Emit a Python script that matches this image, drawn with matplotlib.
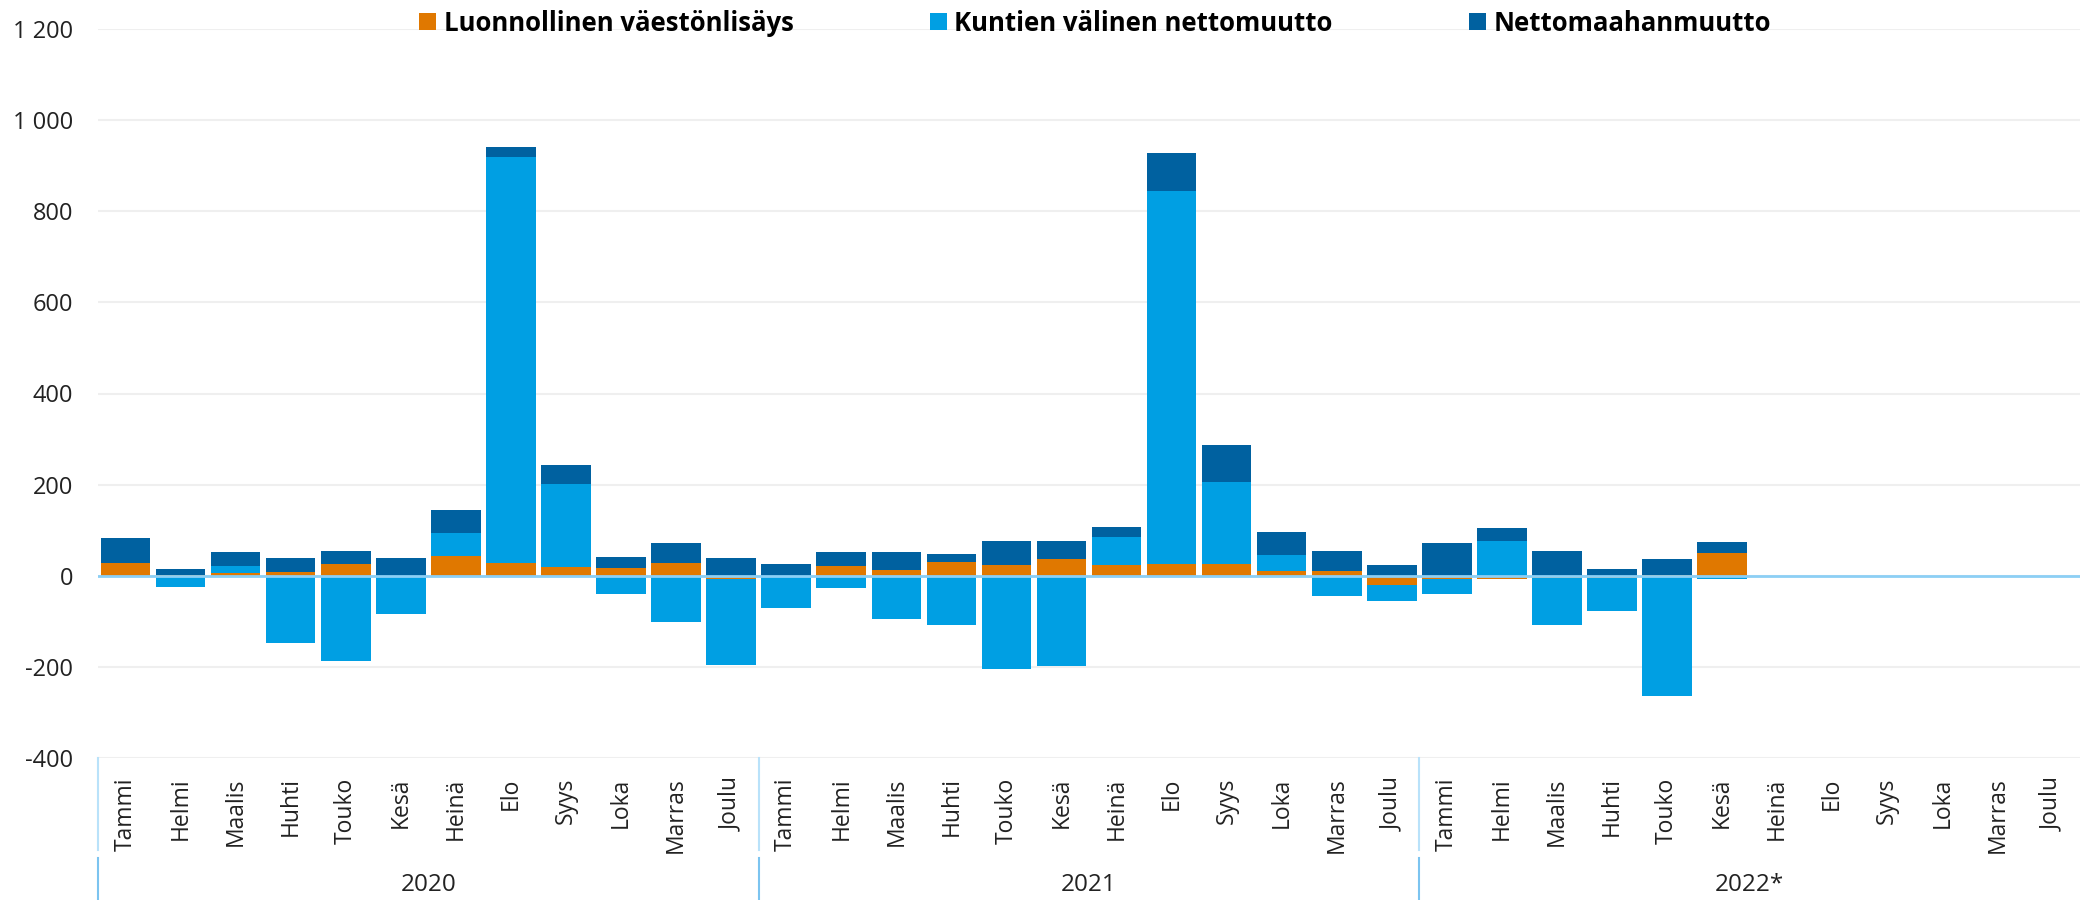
import numpy as np
import matplotlib.pyplot as plt
from matplotlib.patches import Patch
from matplotlib.ticker import FuncFormatter
import matplotlib.transforms as mtransforms

plt.rcParams['font.family'] = ['Open Sans', 'DejaVu Sans']

# Month labels and years
months = ['Tammi', 'Helmi', 'Maalis', 'Huhti', 'Touko', 'Kesä',
          'Heinä', 'Elo', 'Syys', 'Loka', 'Marras', 'Joulu']
years = ['2020', '2021', '2022*']
series_names = ['Luonnollinen väestönlisäys', 'Kuntien välinen nettomuutto', 'Nettomaahanmuutto']

# Values per month (2022 only until Kesä)
luonnollinen = [27, 1, 5, 8, 26, 0, 43, 27, 20, 18, 29, -7,
                0, 21, 13, 30, 24, 37, 24, 26, 26, 10, 11, -20,
                -7, -8, -5, -5, 1, 50]
kuntien = [0, -24, 16, -147, -188, -85, 50, 891, 181, -41, -101, -189,
           -70, -26, -96, -109, -204, -197, 62, 818, 179, 36, -45, -35,
           -34, 76, -104, -72, -265, -7]
maahanmuutto = [56, 14, 32, 32, 29, 39, 52, 23, 41, 23, 42, 39,
                25, 32, 39, 18, 53, 39, 21, 84, 83, 51, 44, 24,
                72, 28, 55, 15, 35, 25]

colors = ['#E07800', '#009FE3', '#0061A0']

fig = plt.figure(figsize=(20.8, 9), dpi=100)
ax = fig.add_axes([98 / 2080, 142 / 900, 1 - 98 / 2080, 729 / 900])

n_cat = len(months) * len(years)
x = np.arange(len(luonnollinen))
pos_bottom = np.zeros(len(x))
neg_bottom = np.zeros(len(x))
for vals, col in zip([luonnollinen, kuntien, maahanmuutto], colors):
    v = np.array(vals, dtype=float)
    bottom = np.where(v >= 0, pos_bottom, neg_bottom)
    ax.bar(x, v, width=0.9, bottom=bottom, color=col, linewidth=0, zorder=2)
    pos_bottom += np.clip(v, 0, None)
    neg_bottom += np.clip(v, None, 0)

ax.axhline(0, color='#8ccff5', lw=2, zorder=3)

ax.set_xlim(-0.5, n_cat - 0.5)
ax.set_ylim(-400, 1200)
ax.set_yticks(np.arange(-400, 1201, 200))
ax.yaxis.set_major_formatter(FuncFormatter(lambda v, p: f"{v:,.0f}".replace(",", " ")))
ax.tick_params(axis='y', length=0, pad=18, labelsize=17, labelcolor='#222222')
ax.yaxis.grid(True, color='#efefef', lw=1.5, zorder=0)
ax.set_axisbelow(True)
for s in ax.spines.values():
    s.set_visible(False)

ax.set_xticks(np.arange(n_cat))
ax.set_xticklabels(months * len(years), rotation=90, va='top', ha='center')
ax.tick_params(axis='x', length=0, pad=14, labelsize=16.5, labelcolor='#222222')

# year group labels and separators
trans = mtransforms.blended_transform_factory(ax.transData, fig.transFigure)
for i, yr in enumerate(years):
    ax.text(i * 12 + 5.5, 15 / 900, yr, transform=trans, ha='center', va='center',
            fontsize=17.5, color='#222222')
for b in [-0.5, 11.5, 23.5]:
    ax.plot([b, b], [142 / 900, 50 / 900], transform=trans, color='#b9e2fa', lw=1.5, clip_on=False)
    ax.plot([b, b], [42 / 900, 0], transform=trans, color='#7cc4f0', lw=1.5, clip_on=False)

handles = [Patch(facecolor=c, edgecolor='none') for c in colors]
fig.legend(handles, series_names, loc='center', bbox_to_anchor=(0.5265, 0.974), ncol=3,
           frameon=False, prop={'weight': 'bold', 'size': 18.5}, handlelength=0.65,
           handleheight=0.65, handletextpad=0.3, columnspacing=5.3, borderpad=0)

fig.savefig('out.png', dpi=100, facecolor='white')
